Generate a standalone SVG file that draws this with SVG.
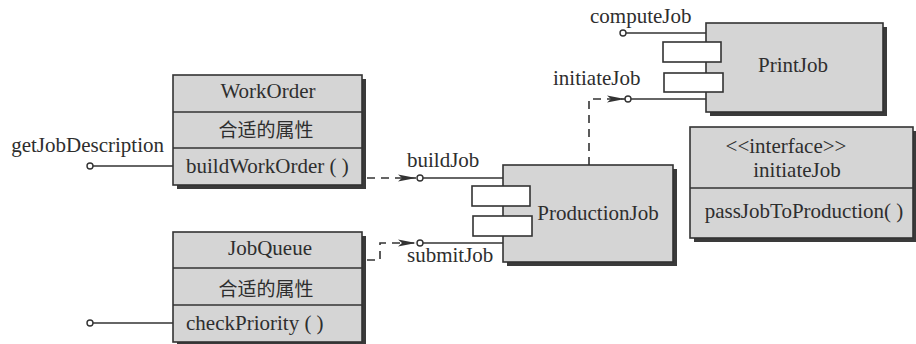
<svg xmlns="http://www.w3.org/2000/svg" width="916" height="344" viewBox="0 0 916 344">
<style>
.box{fill:#d5d5d5;stroke:#333;stroke-width:1.6}
.shadow{fill:#3a3a3a}
.port{fill:#fff;stroke:#333;stroke-width:1.6}
.ln{fill:none;stroke:#333;stroke-width:1.4}
.dash{fill:none;stroke:#333;stroke-width:1.6;stroke-dasharray:8 6}
.lolli{fill:#fff;stroke:#333;stroke-width:1.4}
text{font-family:"Liberation Serif","Noto Sans CJK SC",serif;font-size:21px;fill:#2e2e2e}
.cjk{font-family:"Noto Sans CJK SC","Liberation Serif",sans-serif;font-size:19px}
.mid{text-anchor:middle}
</style>
<defs>
<marker id="arr" viewBox="0 0 18 8" markerWidth="18" markerHeight="8" refX="18" refY="4" orient="auto" markerUnits="userSpaceOnUse">
<path d="M0,0.5 L18,4 L0,7.5 L4,4 z" fill="#333"/>
</marker>
</defs>

<g id="WorkOrder">
<rect class="shadow" x="177" y="79" width="189" height="110"/>
<rect class="box" x="173" y="75" width="189" height="110"/>
<line class="ln" x1="173" y1="112" x2="362" y2="112"/>
<line class="ln" x1="173" y1="148" x2="362" y2="148"/>
<text class="mid" x="268" y="98">WorkOrder</text>
<text class="cjk mid" x="266" y="137">合适的属性</text>
<text x="186" y="173">buildWorkOrder ( )</text>
<line class="ln" x1="93" y1="166" x2="173" y2="166"/>
<circle class="lolli" cx="90" cy="166" r="3"/>
<text x="164" y="152" text-anchor="end">getJobDescription</text>
</g>

<g id="JobQueue">
<rect class="shadow" x="177" y="236" width="189" height="110"/>
<rect class="box" x="173" y="232" width="189" height="110"/>
<line class="ln" x1="173" y1="268" x2="362" y2="268"/>
<line class="ln" x1="173" y1="305" x2="362" y2="305"/>
<text class="mid" x="270" y="255">JobQueue</text>
<text class="cjk mid" x="266" y="296">合适的属性</text>
<text x="186" y="330">checkPriority ( )</text>
<line class="ln" x1="93" y1="323" x2="173" y2="323"/>
<circle class="lolli" cx="90" cy="323" r="3"/>
</g>

<g id="ProductionJob">
<rect class="shadow" x="507" y="169" width="170" height="97"/>
<rect class="box" x="503" y="165" width="170" height="97"/>
<rect class="port" x="472" y="186" width="58" height="20"/>
<rect class="port" x="473" y="216" width="59" height="20"/>
<text class="mid" x="598" y="220">ProductionJob</text>
<line class="ln" x1="423" y1="178" x2="503" y2="178"/>
<circle class="lolli" cx="420" cy="178" r="3"/>
<text x="407" y="167">buildJob</text>
<line class="ln" x1="423" y1="243" x2="503" y2="243"/>
<circle class="lolli" cx="420" cy="243" r="3"/>
<text x="407" y="262">submitJob</text>
</g>

<g id="PrintJob">
<rect class="shadow" x="710" y="27" width="177" height="89"/>
<rect class="box" x="706" y="23" width="177" height="89"/>
<rect class="port" x="663" y="42" width="58" height="20"/>
<rect class="port" x="664" y="73" width="59" height="19"/>
<text class="mid" x="793" y="72">PrintJob</text>
<line class="ln" x1="626" y1="33" x2="706" y2="33"/>
<circle class="lolli" cx="623" cy="33" r="3"/>
<text x="590" y="23">computeJob</text>
<line class="ln" x1="631" y1="99" x2="706" y2="99"/>
<circle class="lolli" cx="628" cy="99" r="3"/>
<text x="553" y="85">initiateJob</text>
</g>

<g id="initiateJobInterface">
<rect class="shadow" x="694" y="131" width="223" height="111"/>
<rect class="box" x="690" y="127" width="223" height="111"/>
<line class="ln" x1="690" y1="188" x2="913" y2="188"/>
<text class="mid" x="786" y="153">&lt;&lt;interface&gt;&gt;</text>
<text class="mid" x="797" y="177">initiateJob</text>
<text class="mid" x="804" y="218">passJobToProduction( )</text>
</g>

<g id="connectors">
<path class="dash" d="M367,178 H416" marker-end="url(#arr)"/>
<path class="dash" d="M367,260 H380 V243 H416" marker-end="url(#arr)"/>
<path class="dash" d="M589,165 V99 H625" marker-end="url(#arr)"/>
</g>
</svg>
